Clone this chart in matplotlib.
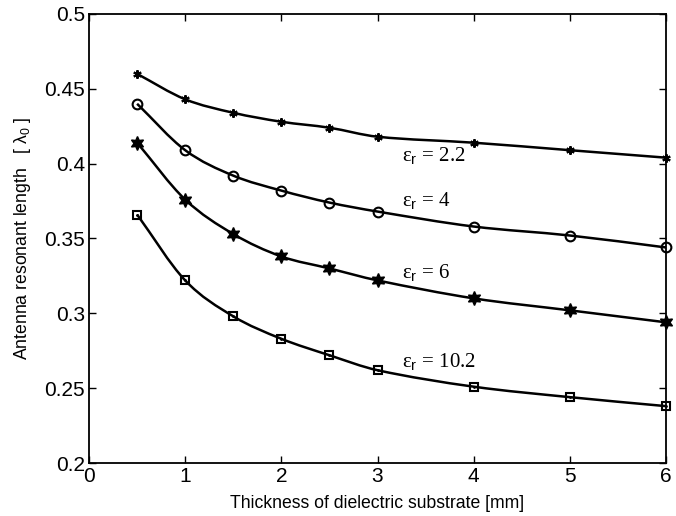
import numpy as np
import matplotlib
matplotlib.use("Agg")
import matplotlib.pyplot as plt
from matplotlib.path import Path
from matplotlib.patches import PathPatch

# thickness of substrate [mm]
thickness = [0.5, 1, 1.5, 2, 2.5, 3, 4, 5, 6]

len_22 = [0.460, 0.443, 0.434, 0.428, 0.424, 0.418, 0.414, 0.409, 0.404]
len_4 = [0.440, 0.409, 0.392, 0.382, 0.374, 0.368, 0.358, 0.352, 0.344]
len_6 = [0.414, 0.376, 0.353, 0.338, 0.330, 0.322, 0.310, 0.302, 0.294]
len_102 = [0.366, 0.322, 0.298, 0.283, 0.272, 0.262, 0.251, 0.244, 0.238]

eps_labels = ["2.2", "4", "6", "10.2"]
label_pos = [(3.25, 0.405), (3.25, 0.3745), (3.25, 0.3265), (3.25, 0.2675)]

plt.rcParams['font.family'] = ['Liberation Sans', 'DejaVu Sans']
plt.rcParams['mathtext.fontset'] = 'custom'
plt.rcParams['mathtext.rm'] = 'Liberation Sans'
plt.rcParams['mathtext.it'] = 'Liberation Sans:italic'


def smooth_path(x, y):
    # Catmull-Rom through the data, drawn as cubic Bezier segments
    x = np.asarray(x, float)
    y = np.asarray(y, float)
    verts = [(x[0], y[0])]
    codes = [Path.MOVETO]
    n = len(x)
    for i in range(n - 1):
        i0 = max(i - 1, 0)
        i3 = min(i + 2, n - 1)
        h = x[i + 1] - x[i]
        m1 = (y[i + 1] - y[i0]) / (x[i + 1] - x[i0])
        m2 = (y[i3] - y[i]) / (x[i3] - x[i])
        verts += [(x[i] + h / 3, y[i] + m1 * h / 3),
                  (x[i + 1] - h / 3, y[i + 1] - m2 * h / 3),
                  (x[i + 1], y[i + 1])]
        codes += [Path.CURVE4] * 3
    return Path(verts, codes)


fig = plt.figure(figsize=(6.76, 5.16), dpi=100)
ax = fig.add_axes([0.1317, 0.1027, 0.8535, 0.8702])

series = [len_22, len_4, len_6, len_102]
markers = [dict(marker=(6, 2, 0), ms=6, mew=1.5, mfc='none'),
           dict(marker='o', ms=7, mew=1.5, mfc='none'),
           dict(marker=(6, 1, 0), ms=10, mew=1, mfc='black'),
           dict(marker='s', ms=6, mew=1.5, mfc='none')]

for vals, mk in zip(series, markers):
    ax.add_patch(PathPatch(smooth_path(thickness, vals), fc='none',
                           ec='black', lw=1.8))
    ax.plot(thickness, vals, ls='none', color='black', mec='black', **mk,
            clip_on=False)
# centre dot inside the square markers
ax.plot(thickness, len_102, ls='none', marker='.', ms=2, color='black',
        clip_on=False)

for lab, (lx, ly) in zip(eps_labels, label_pos):
    ax.text(lx, ly, 'ε$_\\mathrm{r}$ = ' + lab, fontsize=15,
            family=['Liberation Serif', 'DejaVu Serif'],
            va='center', ha='left')

ax.set_xlim(0, 6)
ax.set_ylim(0.2, 0.5)
ax.set_xticks(range(7))
ax.set_yticks(np.arange(0.2, 0.501, 0.05))
ax.set_yticklabels(['0.2', '0.25', '0.3', '0.35', '0.4', '0.45', '0.5'])
ax.tick_params(direction='in', top=True, right=True, labelsize=15,
               length=5, width=1, pad=3)
for s in ax.spines.values():
    s.set_linewidth(1.3)

ax.set_xlabel('Thickness of dielectric substrate [mm]', fontsize=12.7,
              labelpad=6)
ax.set_ylabel('Antenna resonant length   [ λ$_0$ ]', fontsize=12.7,
              labelpad=8)

fig.savefig('out.png', dpi=100)
